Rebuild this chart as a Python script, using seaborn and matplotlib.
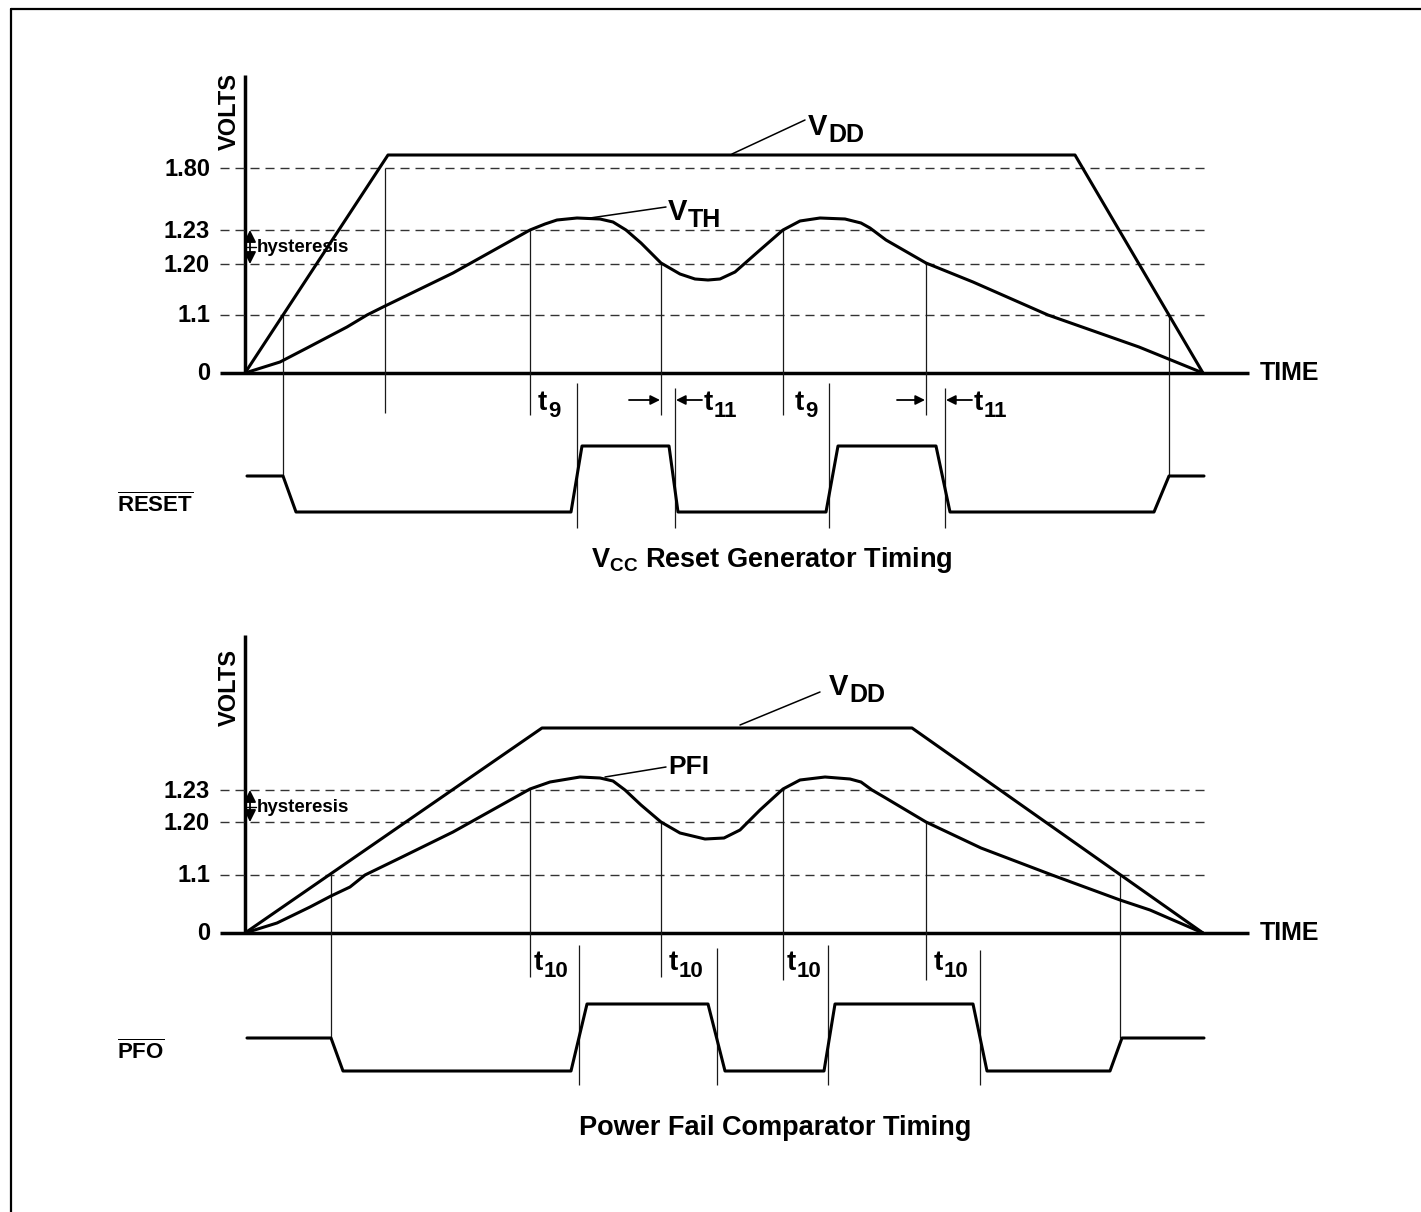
import numpy as np
import pandas as pd
import seaborn as sns
import matplotlib.pyplot as plt

# ---- data (time units along the axis, levels = schematic height above the TIME axis) ----
volt_labels_top = ['0', '1.1', '1.20', '1.23', '1.80']
volt_levels_top = [0, 58, 109, 143, 205]
volt_labels_bot = ['0', '1.1', '1.20', '1.23']
volt_levels_bot = [0, 58, 111, 143]

vdd_top_t = [0, 143, 830, 958]
vdd_top_v = [0, 218, 218, 0]
vdd_bot_t = [0, 297, 667, 958]
vdd_bot_v = [0, 205, 205, 0]

vth_t = [0, 35, 62, 102, 122, 138, 208, 285, 300, 312, 332, 355, 368, 381, 396, 416,
         435, 450, 463, 475, 490, 515, 538, 555, 575, 600, 616, 625, 641, 681, 728, 803, 894, 958]
vth_v = [0, 11, 25, 46, 58, 66, 100, 143, 149, 153, 155, 154, 151, 143, 130, 110,
         99, 94, 93, 94, 101, 123, 143, 152, 155, 154, 150, 145, 133, 110, 91, 58, 26, 0]

pfi_t = [0, 32, 65, 86, 105, 120, 155, 208, 285, 305, 335, 355, 368, 380, 396, 416,
         435, 460, 479, 495, 515, 538, 555, 580, 605, 616, 627, 639, 681, 736, 807, 875, 905, 958]
pfi_v = [0, 10, 26, 37, 46, 58, 75, 101, 144, 151, 156, 155, 152, 143, 128, 111,
         100, 94, 95, 103, 123, 144, 153, 156, 154, 151, 143, 136, 111, 85, 58, 33, 23, 0]

reset_t = [2, 38, 51, 326, 337, 424, 433, 581, 593, 691, 705, 909, 924, 959]
reset_v = [-103, -103, -139, -139, -73, -73, -139, -139, -73, -73, -139, -139, -103, -103]

pfo_t = [2, 86, 98, 326, 342, 463, 480, 579, 590, 728, 742, 865, 877, 959]
pfo_v = [-105, -105, -138, -138, -71, -71, -138, -138, -71, -71, -138, -138, -105, -105]

# thin vertical guides: time, from level, to level
guide_top_t = [38, 140, 285, 416, 538, 681, 924, 332, 430, 584, 700]
guide_top_a = [58, 205, 143, 109, 143, 110, 58, -10, -15, -10, -15]
guide_top_b = [-103, -40, -42, -42, -42, -42, -103, -155, -155, -155, -155]

guide_bot_t = [86, 285, 416, 538, 681, 875, 334, 472, 583, 735]
guide_bot_a = [58, 144, 111, 144, 111, 58, -12, -15, -12, -17]
guide_bot_b = [-105, -44, -44, -47, -47, -105, -152, -152, -152, -152]

t_top_subs = ['9', '11', '9', '11']
t_top_pos = [293, 459, 550, 729]
t_bot_subs = ['10', '10', '10', '10']
t_bot_pos = [289, 424, 542, 689]

# ---- style ----
sns.set_theme(style="white")
FONT = 'Liberation Sans'
plt.rcParams['font.family'] = [FONT, 'DejaVu Sans']
plt.rcParams['font.weight'] = 'bold'
plt.rcParams['mathtext.fontset'] = 'custom'
plt.rcParams['mathtext.rm'] = FONT + ':bold'
plt.rcParams['mathtext.bf'] = FONT + ':bold'
plt.rcParams['mathtext.it'] = FONT + ':bold'

W, H = 1421, 1212
fig = plt.figure(figsize=(W / 100, H / 100), dpi=100)
fig.patch.set_facecolor('white')

# outer frame (top and left edge)
fig.add_artist(plt.Line2D([11 / W, 1], [1 - 9 / H, 1 - 9 / H], transform=fig.transFigure, color='black', lw=1.6))
fig.add_artist(plt.Line2D([11 / W, 11 / W], [0, 1 - 9 / H], transform=fig.transFigure, color='black', lw=1.6))

ax_top = fig.add_axes([0, 0.5, 1, 0.5])
ax_bot = fig.add_axes([0, 0, 1, 0.5])
ax_top.set_xlim(-245, W - 245)
ax_top.set_ylim(373 - 606, 373)
ax_bot.set_xlim(-245, W - 245)
ax_bot.set_ylim(933 - 1212, 933 - 606)
for ax in (ax_top, ax_bot):
    ax.axis('off')
    ax.patch.set_alpha(0)

LW = 2.2
DASH = (0, (6.5, 4.3))


def sub_label(ax, x, y, main, sub, size=20, subsize=16, drop=-4):
    # main letter on its baseline, subscript hung off its lower right corner
    t = ax.text(x, y, main, ha='left', va='baseline', fontsize=size, fontweight='bold', color='black')
    ax.annotate(sub, xy=(1, 0), xycoords=t, xytext=(0.5, drop), textcoords='offset points',
                ha='left', va='bottom', fontsize=subsize, fontweight='bold', color='black')


def panel(ax, levels, labels, vdd_t, vdd_v, sig_t, sig_v, wave_t, wave_v, g_t, g_a, g_b, volts_y):
    # axes
    ax.plot([0, 0], [0, 298], color='black', lw=2.5, solid_capstyle='butt')
    ax.plot([-25, 1004], [0, 0], color='black', lw=2.5, solid_capstyle='butt')
    ax.hlines([v for v in levels if v > 0], -25, 960, colors='#333333', lw=1.0, linestyles=DASH)
    for v, lab in zip(levels, labels):
        ax.text(-35, v - 1, lab, ha='right', va='center', fontsize=17, fontweight='bold', color='black')
    ax.text(-16, volts_y, 'VOLTS', rotation=90, ha='center', va='center', fontsize=17,
            fontweight='bold', color='black')
    ax.text(1015, 0, 'TIME', ha='left', va='center', fontsize=18, fontweight='bold', color='black')
    # hysteresis
    ax.annotate('', xy=(5, 143), xytext=(5, levels[2]),
                arrowprops=dict(arrowstyle='<|-|>', color='black', lw=1.3, mutation_scale=18,
                                shrinkA=0, shrinkB=0))
    ax.plot([2, 11], [126, 126], color='black', lw=1.0)
    ax.text(12, 126, 'hysteresis', ha='left', va='center', fontsize=13.5, fontweight='bold', color='black')
    # guides
    ax.vlines(g_t, g_b, g_a, colors='#1a1a1a', lw=0.9)
    # curves
    sns.lineplot(x=vdd_t, y=vdd_v, ax=ax, color='black', lw=LW, sort=False, estimator=None)
    sns.lineplot(x=sig_t, y=sig_v, ax=ax, color='black', lw=LW, sort=False, estimator=None)
    sns.lineplot(x=wave_t, y=wave_v, ax=ax, color='black', lw=LW, sort=False, estimator=None)


panel(ax_top, volt_levels_top, volt_labels_top, vdd_top_t, vdd_top_v, vth_t, vth_v,
      reset_t, reset_v, guide_top_t, guide_top_a, guide_top_b, 261)
panel(ax_bot, volt_levels_bot, volt_labels_bot, vdd_bot_t, vdd_bot_v, pfi_t, pfi_v,
      pfo_t, pfo_v, guide_bot_t, guide_bot_a, guide_bot_b, 246)

# ---- top panel labels ----
ax_top.plot([487, 560], [219, 253], color='black', lw=1.1)
sub_label(ax_top, 563, 238, 'V', 'DD', 21, 18)
ax_top.plot([345, 421], [155, 166], color='black', lw=1.1)
sub_label(ax_top, 423, 153, 'V', 'TH', 21, 18)
for x, s in zip(t_top_pos, t_top_subs):
    sub_label(ax_top, x, -37, 't', s)
for a, b in [(384, 415), (457, 431), (652, 680), (727, 701)]:
    ax_top.annotate('', xy=(b, -27), xytext=(a, -27),
                    arrowprops=dict(arrowstyle='-|>', color='black', lw=1.3, mutation_scale=14,
                                    shrinkA=0, shrinkB=0))
ax_top.text(-128, -132, r'$\overline{\mathbf{RESET}}$', ha='left', va='center', fontsize=16, color='black')
ax_top.text(527, -187, r'$\mathbf{V}_{\mathbf{CC}}$' + ' Reset Generator Timing', ha='center', va='center',
            fontsize=19.5, fontweight='bold', color='black')

# ---- bottom panel labels ----
ax_bot.plot([495, 575], [208, 241], color='black', lw=1.1)
sub_label(ax_bot, 584, 238, 'V', 'DD', 21, 18)
ax_bot.plot([360, 421], [156, 166], color='black', lw=1.1)
ax_bot.text(423, 166, 'PFI', ha='left', va='center', fontsize=19, fontweight='bold', color='black')
for x, s in zip(t_bot_pos, t_bot_subs):
    sub_label(ax_bot, x, -37, 't', s)
ax_bot.text(-128, -119, r'$\overline{\mathbf{PFO}}$', ha='left', va='center', fontsize=16, color='black')
ax_bot.text(530, -195, 'Power Fail Comparator Timing', ha='center', va='center',
            fontsize=19.5, fontweight='bold', color='black')

fig.savefig('out.png', dpi=100, facecolor='white')
